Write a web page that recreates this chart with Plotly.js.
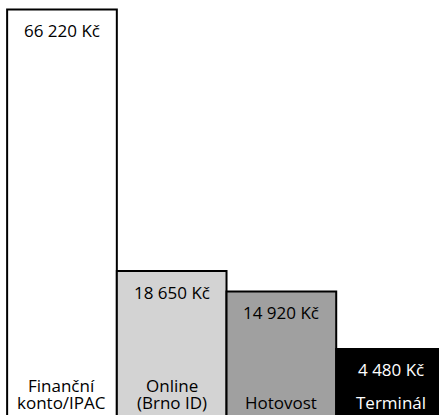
<!DOCTYPE html>
<html>
<head>
<meta charset="utf-8">
<script src="https://cdn.plot.ly/plotly-3.0.1.min.js"></script>
<style>html,body{margin:0;padding:0;background:#fff;overflow:hidden;}#chart{width:439px;height:415px;}</style>
</head>
<body>
<div id="chart"></div>
<script>
var categories = ["Finanční konto/IPAC", "Online (Brno ID)", "Hotovost", "Terminál"];
var labelLines = [["Finanční", "konto/IPAC"], ["Online", "(Brno ID)"], ["Hotovost"], ["Terminál"]];
var values = [66220, 18650, 14920, 4480];
var valueLabels = ["66 220 Kč", "18 650 Kč", "14 920 Kč", "4 480 Kč"];
var barColors = ["#ffffff", "#d3d3d3", "#a0a0a0", "#000000"];
var textColors = ["#000000", "#000000", "#000000", "#ffffff"];

var BASE = -9000;
var FONT = "Open Sans, sans-serif";
var FS = 17;

var trace = {
  type: "bar",
  x: categories,
  y: values.map(function (v) { return v - BASE; }),
  base: values.map(function () { return BASE; }),
  marker: { color: barColors, line: { color: "#000000", width: 2 } },
  hoverinfo: "skip",
  width: 1
};

var annotations = [];
categories.forEach(function (c, i) {
  annotations.push({
    x: c, y: values[i], xref: "x", yref: "y",
    text: valueLabels[i], showarrow: false,
    yanchor: "middle", yshift: -21,
    font: { family: FONT, size: FS, color: textColors[i] }
  });
  var lines = labelLines[i];
  for (var k = 0; k < lines.length; k++) {
    var fromBottom = lines.length - 1 - k;
    annotations.push({
      x: c, y: 0, xref: "x", yref: "paper",
      text: lines[k], showarrow: false,
      yanchor: "bottom", yshift: -1 + fromBottom * 17,
      font: { family: FONT, size: FS, color: textColors[i] }
    });
  }
});

var layout = {
  width: 439, height: 415,
  margin: { l: 0, r: 0, t: 0, b: 0, pad: 0 },
  paper_bgcolor: "#ffffff", plot_bgcolor: "#ffffff",
  showlegend: false,
  bargap: 0,
  xaxis: { type: "category", range: [-0.565, 3.437], showgrid: false, zeroline: false, showticklabels: false, ticks: "", fixedrange: true },
  yaxis: { range: [-7530, 67940], showgrid: false, zeroline: false, showticklabels: false, ticks: "", fixedrange: true },
  annotations: annotations
};

Plotly.newPlot("chart", [trace], layout, { displayModeBar: false, staticPlot: true });
</script>
</body>
</html>
